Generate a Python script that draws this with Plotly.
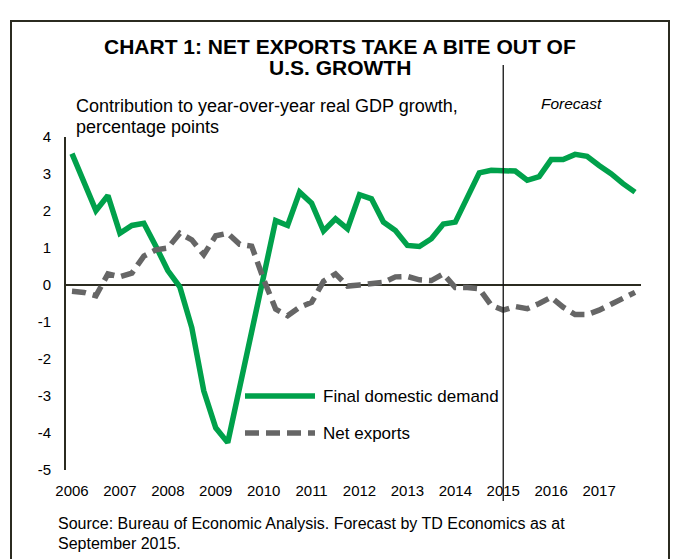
import plotly.graph_objects as go

# Quarterly contributions to y/y real GDP growth, 2006Q1-2017Q4 (pp)
years = list(range(2006, 2018))
quarters = [f"{y}Q{q}" for y in years for q in range(1, 5)]

final_domestic_demand = [
    3.55, 2.78, 2.01, 2.42, 1.40, 1.61, 1.67, 1.05, 0.39, -0.05,
    -1.15, -2.86, -3.86, -4.26, -2.76, -1.26, 0.24, 1.74, 1.61, 2.51,
    2.21, 1.46, 1.79, 1.52, 2.44, 2.33, 1.70, 1.47, 1.07, 1.04,
    1.25, 1.65, 1.70, 2.35, 3.03, 3.10, 3.08, 3.08, 2.83, 2.93,
    3.39, 3.39, 3.53, 3.48, 3.23, 3.01, 2.74, 2.51,
]
net_exports = [
    -0.17, -0.20, -0.29, 0.30, 0.22, 0.32, 0.78, 0.95, 1.00, 1.40,
    1.22, 0.82, 1.33, 1.40, 1.10, 1.05, 0.15, -0.65, -0.83, -0.60,
    -0.47, 0.10, 0.30, -0.03, 0.00, 0.03, 0.07, 0.22, 0.23, 0.14,
    0.12, 0.30, -0.07, -0.07, -0.10, -0.55, -0.68, -0.58, -0.64, -0.50,
    -0.33, -0.60, -0.80, -0.80, -0.68, -0.52, -0.35, -0.20,
]
tick_quarters = [f"{y}Q1" for y in years]
tick_labels = [str(y) for y in years]
y_ticks = [4, 3, 2, 1, 0, -1, -2, -3, -4, -5]
y_tick_labels = ["4", "3", "2", "1", "0", "-1", "-2", "-3", "-4", "-5"]
forecast_start = "2015Q1"

GREEN = "#00A14B"
GREY = "#666666"
DARK = "#2b2b20"
FONT = "Liberation Sans, Arial, sans-serif"

W, H = 677, 559
L, R, T, B = 66, 36, 137, 89
PW, PH = W - L - R, H - T - B


def px(x):
    return (x - L) / PW


def py(y):
    return (H - B - y) / PH


fig = go.Figure()
fig.add_trace(go.Scatter(x=quarters, y=final_domestic_demand, mode="lines",
                         line=dict(color=GREEN, width=5.5),
                         name="Final domestic demand", showlegend=False))
fig.add_trace(go.Scatter(x=quarters, y=net_exports, mode="lines",
                         line=dict(color=GREY, width=5.5, dash="14px,7px"),
                         name="Net exports", showlegend=False))

fx = (quarters.index(forecast_start) + 0.5) / len(quarters)

shapes = [
    # outer frame
    dict(type="rect", xref="paper", yref="paper", x0=px(11), x1=px(669),
         y0=py(575), y1=py(21), line=dict(color=DARK, width=2)),
    # forecast divider
    dict(type="line", xref="paper", yref="paper", x0=fx, x1=fx,
         y0=py(501), y1=py(65), line=dict(color="#111111", width=1.3)),
    # legend samples
    dict(type="line", xref="paper", yref="paper", x0=px(245), x1=px(315),
         y0=py(396), y1=py(396), line=dict(color=GREEN, width=5.5)),
    dict(type="line", xref="paper", yref="paper", x0=px(245), x1=px(315),
         y0=py(433), y1=py(433), line=dict(color=GREY, width=5.5, dash="14px,7px")),
]

annotations = [
    dict(text="<b>CHART 1: NET EXPORTS TAKE A BITE OUT OF</b>", x=px(340), y=py(46),
         font=dict(size=21)),
    dict(text="<b>U.S. GROWTH</b>", x=px(340), y=py(68), font=dict(size=21)),
    dict(text="Contribution to year-over-year real GDP growth,", x=px(74), y=py(106),
         xanchor="left", font=dict(size=18)),
    dict(text="percentage points", x=px(74), y=py(127), xanchor="left",
         font=dict(size=18)),
    dict(text="<i>Forecast</i>", x=px(571), y=py(103), font=dict(size=15.5)),
    dict(text="Final domestic demand", x=px(321), y=py(396), xanchor="left",
         font=dict(size=17)),
    dict(text="Net exports", x=px(321), y=py(433), xanchor="left", font=dict(size=17)),
    dict(text="Source: Bureau of Economic Analysis. Forecast by TD Economics as at",
         x=px(56), y=py(523), xanchor="left", font=dict(size=16)),
    dict(text="September 2015.", x=px(56), y=py(543), xanchor="left",
         font=dict(size=16)),
]
for a in annotations:
    a.update(xref="paper", yref="paper", showarrow=False)
    a.setdefault("xanchor", "center")
    a.setdefault("yanchor", "middle")
    a["font"].update(family=FONT, color="#000000")

fig.update_layout(
    width=W, height=H,
    margin=dict(l=L, r=R, t=T, b=B, pad=0),
    paper_bgcolor="white", plot_bgcolor="white",
    font=dict(family=FONT, size=15, color="#000000"),
    showlegend=False,
    shapes=shapes,
    annotations=annotations,
    xaxis=dict(type="category", categoryorder="array", categoryarray=quarters,
               range=[-0.5, len(quarters) - 0.5],
               tickmode="array", tickvals=tick_quarters, ticktext=tick_labels,
               showgrid=False, zeroline=False, showline=False, ticks="",
               tickfont=dict(size=15), ticklabelstandoff=10),
    yaxis=dict(range=[-5, 4], tickmode="array", tickvals=y_ticks,
               ticktext=y_tick_labels, showgrid=False,
               zeroline=True, zerolinecolor=DARK, zerolinewidth=1.6,
               showline=True, linecolor=DARK, linewidth=1.6, ticks="",
               tickfont=dict(size=15), ticklabelstandoff=10),
)

fig.write_html("out.html", config={"displayModeBar": False})
